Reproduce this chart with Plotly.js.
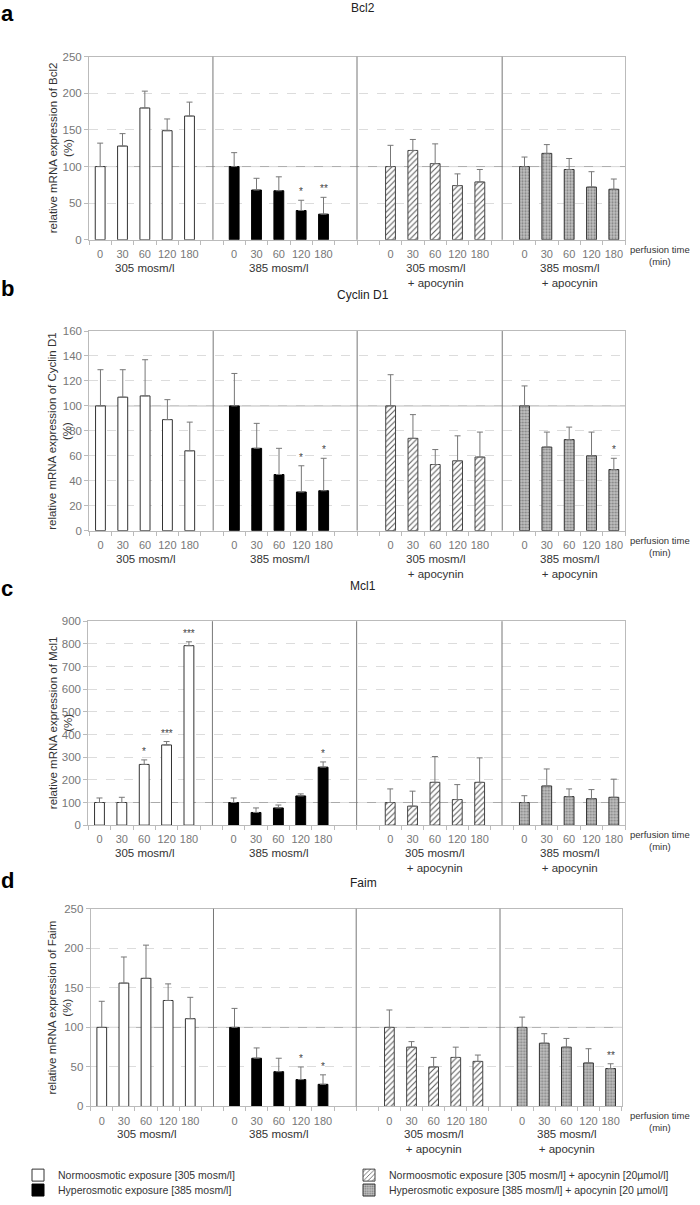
<!DOCTYPE html>
<html><head><meta charset="utf-8">
<script src="https://cdn.plot.ly/plotly-3.0.1.min.js"></script>
<style>body{margin:0;background:#fff;} #chart{width:700px;height:1205px;}</style>
</head><body><div id="chart"></div>
<script>
// ---------- DATA ----------
const times = ['0', '30', '60', '120', '180'];
const groupLabels = ['305 mosm/l', '385 mosm/l', '305 mosm/l<br>+ apocynin', '385 mosm/l<br>+ apocynin'];
const seriesNames = [
  'Normoosmotic exposure [305 mosm/l]',
  'Hyperosmotic exposure [385 mosm/l]',
  'Normoosmotic exposure [305 mosm/l] + apocynin [20µmol/l]',
  'Hyperosmotic exposure [385 mosm/l] + apocynin [20 µmol/l]'
];
const genes = ['Bcl2', 'Cyclin D1', 'Mcl1', 'Faim'];
const panelLetters = ['a', 'b', 'c', 'd'];

// Bcl2
const bcl2_305 = [100, 128, 180, 149, 169];
const bcl2_305_err = [32, 17, 23, 16, 19];
const bcl2_385 = [100, 68, 67, 40, 35];
const bcl2_385_err = [19, 16, 19, 14, 23];
const bcl2_305apo = [100, 122, 104, 74, 79];
const bcl2_305apo_err = [29, 15, 27, 16, 17];
const bcl2_385apo = [100, 118, 96, 72, 69];
const bcl2_385apo_err = [13, 12, 15, 21, 14];
const bcl2_sig = [['', '', '', '', ''], ['', '', '', '*', '**'], ['', '', '', '', ''], ['', '', '', '', '']];

// Cyclin D1
const ccnd1_305 = [100, 107, 108, 89, 64];
const ccnd1_305_err = [29, 22, 29, 16, 23];
const ccnd1_385 = [100, 66, 45, 31, 32];
const ccnd1_385_err = [26, 20, 21, 21, 26];
const ccnd1_305apo = [100, 74, 53, 56, 59];
const ccnd1_305apo_err = [25, 19, 12, 20, 20];
const ccnd1_385apo = [100, 67, 73, 60, 49];
const ccnd1_385apo_err = [16, 12, 10, 19, 9];
const ccnd1_sig = [['', '', '', '', ''], ['', '', '', '*', '*'], ['', '', '', '', ''], ['', '', '', '', '*']];

// Mcl1
const mcl1_305 = [100, 100, 268, 354, 792];
const mcl1_305_err = [20, 23, 20, 15, 17];
const mcl1_385 = [100, 56, 76, 129, 256];
const mcl1_385_err = [20, 20, 13, 9, 23];
const mcl1_305apo = [100, 84, 189, 113, 189];
const mcl1_305apo_err = [60, 66, 114, 66, 108];
const mcl1_385apo = [100, 173, 126, 117, 123];
const mcl1_385apo_err = [30, 75, 34, 40, 80];
const mcl1_sig = [['', '', '*', '***', '***'], ['', '', '', '', '*'], ['', '', '', '', ''], ['', '', '', '', '']];

// Faim
const faim_305 = [100, 156, 162, 134, 111];
const faim_305_err = [33, 33, 42, 21, 27];
const faim_385 = [100, 61, 44, 34, 28];
const faim_385_err = [24, 13, 17, 16, 12];
const faim_305apo = [100, 75, 50, 62, 57];
const faim_305apo_err = [22, 7, 12, 13, 8];
const faim_385apo = [100, 80, 75, 55, 48];
const faim_385apo_err = [13, 12, 11, 18, 6];
const faim_sig = [['', '', '', '', ''], ['', '', '', '*', '*'], ['', '', '', '', ''], ['', '', '', '', '**']];

const yTicks = [50, 20, 100, 50];
const yMax = [250, 160, 900, 250];
const refLevel = 100;

// ---------- LAYOUT CONSTANTS ----------
const W = 700, H = 1205;
const FONT = 'Liberation Sans, Arial, sans-serif';
const groupStart = [0, 6, 13, 19];
const dividers = [5.05, 11.5, 18];
const geom = [
  {top: 57, bottom: 241, left: 89, right: 625, titleY: 8, letterTop: 0},
  {top: 332.7, bottom: 533.3, left: 89.3, right: 625, titleY: 296, letterTop: 276},
  {top: 624.3, bottom: 829.3, left: 88.3, right: 625, titleY: 589, letterTop: 578},
  {top: 913.3, bottom: 1112, left: 90.7, right: 621.7, titleY: 887, letterTop: 871}
];

const panelData = [
  {vals: [bcl2_305, bcl2_385, bcl2_305apo, bcl2_385apo], errs: [bcl2_305_err, bcl2_385_err, bcl2_305apo_err, bcl2_385apo_err], sig: bcl2_sig},
  {vals: [ccnd1_305, ccnd1_385, ccnd1_305apo, ccnd1_385apo], errs: [ccnd1_305_err, ccnd1_385_err, ccnd1_305apo_err, ccnd1_385apo_err], sig: ccnd1_sig},
  {vals: [mcl1_305, mcl1_385, mcl1_305apo, mcl1_385apo], errs: [mcl1_305_err, mcl1_385_err, mcl1_305apo_err, mcl1_385apo_err], sig: mcl1_sig},
  {vals: [faim_305, faim_385, faim_305apo, faim_385apo], errs: [faim_305_err, faim_385_err, faim_305apo_err, faim_385apo_err], sig: faim_sig}
];

const markers = [
  {color: '#ffffff', line: {color: '#333', width: 1}},
  {color: '#000000', line: {color: '#000', width: 1}},
  {color: '#ffffff', pattern: {shape: '/', fgcolor: '#555', bgcolor: '#ffffff', size: 4, solidity: 0.25}, line: {color: '#444', width: 1}},
  {color: '#b8b8b8', pattern: {shape: '.', fgcolor: '#808080', bgcolor: '#c2c2c2', size: 3, solidity: 0.4}, line: {color: '#333', width: 1}}
];
const legendPos = [
  {x: 18, y: 1181}, {x: 18, y: 1196}, {x: 349, y: 1181}, {x: 349, y: 1196}
];
const legendIds = ['legend', 'legend2', 'legend3', 'legend4'];

const traces = [];
const layout = {
  width: W, height: H,
  margin: {l: 0, r: 0, t: 0, b: 0},
  paper_bgcolor: '#fff', plot_bgcolor: '#fff',
  font: {family: FONT, color: '#333'},
  showlegend: true,
  bargap: 0,
  shapes: [], annotations: []
};

const allPos = [];
const allTxt = [];
groupStart.forEach(g => times.forEach((t, j) => { allPos.push(g + j); allTxt.push(t); }));

panelData.forEach((pd, p) => {
  const s = p === 0 ? '' : String(p + 1);
  const xa = 'x' + s, ya = 'y' + s;
  const gm = geom[p];
  pd.vals.forEach((vals, k) => {
    const pos = times.map((t, j) => groupStart[k] + j);
    const err = pd.errs[k];
    traces.push({
      type: 'bar', x: pos, y: vals, width: 0.44,
      xaxis: xa, yaxis: ya,
      name: seriesNames[k],
      marker: markers[k],
      error_y: {type: 'data', symmetric: false, array: err, arrayminus: err.map(() => 0), color: '#777', thickness: 1, width: 3},
      showlegend: p === 3,
      legend: legendIds[k],
      hoverinfo: 'skip'
    });
    // significance stars above error bars
    pd.sig[k].forEach((txt, j) => {
      if (!txt) return;
      layout.annotations.push({
        text: txt, xref: xa, yref: ya, x: pos[j], y: vals[j] + err[j],
        xanchor: 'center', yanchor: 'bottom', yshift: 1, showarrow: false,
        font: {size: 10, color: '#444', family: FONT}
      });
    });
  });

  layout['xaxis' + s] = {
    domain: [gm.left / W, gm.right / W], range: [-0.5, 23.5], anchor: ya,
    tickmode: 'array', tickvals: allPos, ticktext: allTxt, ticks: '',
    ticklabelstandoff: 4,
    tickfont: {size: 11, color: '#777', family: FONT},
    showgrid: false, zeroline: false, showline: true, linecolor: '#bbb', mirror: true,
    minor: {ticks: 'outside', ticklen: 4, tickcolor: '#bbb', tickmode: 'linear', tick0: -0.5, dtick: 1, showgrid: false},
    fixedrange: true
  };
  layout['yaxis' + s] = {
    domain: [1 - gm.bottom / H, 1 - gm.top / H], range: [0, yMax[p]], dtick: yTicks[p], anchor: xa,
    ticks: 'outside', ticklen: 4, tickcolor: '#bbb',
    tickfont: {size: 11.5, color: '#777', family: FONT},
    showgrid: true, gridcolor: '#dcdcdc', griddash: 'dash', zeroline: false,
    showline: true, linecolor: '#bbb', mirror: true,
    fixedrange: true
  };
  // y-axis title (two lines, rotated)
  layout.annotations.push({
    text: 'relative mRNA expression of ' + genes[p] + '<br>(%)', textangle: -90,
    xref: 'paper', x: 60 / W, xanchor: 'center', yref: ya + ' domain', y: 0.5, yanchor: 'middle',
    showarrow: false, font: {size: 11.5, color: '#333', family: FONT}
  });

  layout.shapes.push({type: 'line', xref: xa + ' domain', x0: 0, x1: 1, yref: ya, y0: refLevel, y1: refLevel, line: {color: '#aaa', width: 1}, layer: 'below'});
  dividers.forEach(d => layout.shapes.push({type: 'line', xref: xa, x0: d, x1: d, yref: ya + ' domain', y0: 0, y1: 1, line: {color: '#777', width: 1}}));

  layout.annotations.push({text: genes[p], xref: 'paper', yref: 'paper', x: 363 / W, y: 1 - gm.titleY / H, xanchor: 'center', yanchor: 'middle', showarrow: false, font: {size: 12, color: '#222', family: FONT}});
  layout.annotations.push({text: '<b>' + panelLetters[p] + '</b>', xref: 'paper', yref: 'paper', x: 0, y: 1 - gm.letterTop / H, xanchor: 'left', yanchor: 'top', borderpad: 0, showarrow: false, font: {size: 22, color: '#000', family: FONT}});
  groupLabels.forEach((gl, k) => layout.annotations.push({
    text: gl, xref: xa, x: groupStart[k] + 2, yref: ya + ' domain', y: 0, yanchor: 'top', xanchor: 'center', yshift: -21,
    borderpad: 0, showarrow: false, font: {size: 11.5, color: '#333', family: FONT}
  }));
  layout.annotations.push({text: 'perfusion time<br>(min)', xref: 'paper', x: 660 / W, yref: ya + ' domain', y: 0, yanchor: 'top', xanchor: 'center', yshift: -2,
    showarrow: false, font: {size: 9.5, color: '#333', family: FONT}});
});

legendIds.forEach((id, k) => {
  layout[id] = {x: legendPos[k].x / W, y: 1 - legendPos[k].y / H, xanchor: 'left', yanchor: 'middle',
    font: {size: 10.5, color: '#333', family: FONT}, bgcolor: 'rgba(0,0,0,0)', borderwidth: 0, itemclick: false, itemdoubleclick: false};
});

Plotly.newPlot('chart', traces, layout, {staticPlot: true, displayModeBar: false});
</script></body></html>
